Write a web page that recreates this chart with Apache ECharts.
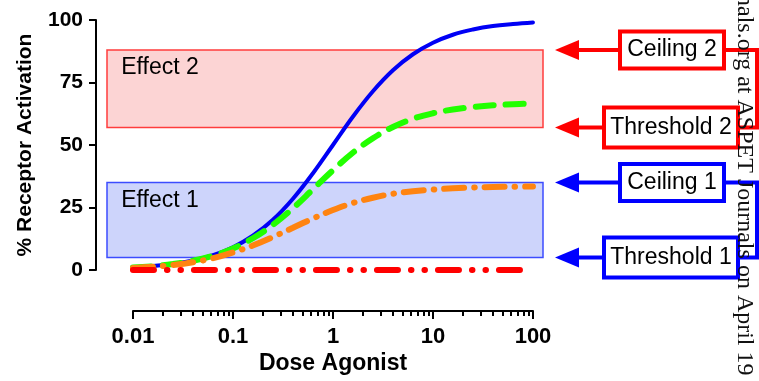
<!DOCTYPE html>
<html><head><meta charset="utf-8">
<script src="https://cdn.jsdelivr.net/npm/echarts@6/dist/echarts.min.js"></script>
<style>html,body{margin:0;padding:0;background:#fff}#c{width:759px;height:381px}</style>
</head><body><div id="c"></div>
<script>
// ---- data ----
const doses = [0.01, 0.0158, 0.0251, 0.0398, 0.0631, 0.1, 0.158, 0.251, 0.398, 0.631, 1, 1.58, 2.51, 3.98, 6.31, 10, 15.8, 25.1, 39.8, 63.1, 100];
const fullAgonist = [1.0, 1.6, 2.5, 3.8, 5.9, 9.1, 13.7, 20.1, 28.5, 38.7, 50.0, 61.3, 71.5, 79.9, 86.3, 90.9, 94.1, 96.2, 97.6, 98.4, 99.0];
const partialAgonistHigh = [1.0, 1.5, 2.4, 3.7, 5.7, 8.6, 12.7, 18.1, 24.7, 32.3, 39.9, 46.9, 52.7, 57.2, 60.5, 62.7, 64.2, 65.2, 65.9, 66.3, 66.6];
const partialAgonistLow = [0.8, 1.3, 2.0, 3.1, 4.7, 7.0, 9.8, 13.2, 16.9, 20.6, 24.0, 26.8, 28.9, 30.5, 31.5, 32.2, 32.7, 33.0, 33.2, 33.3, 33.4];
const antagonist = [0, 0, 0, 0, 0, 0, 0, 0, 0, 0, 0, 0, 0, 0, 0, 0, 0, 0, 0, 0, 0];
const effect2Band = [57, 88];   // [threshold 2, ceiling 2]
const effect1Band = [5, 35];    // [threshold 1, ceiling 1]
const bandDoseRange = [0.0055, 126];
const bandLabels = ['Effect 1', 'Effect 2'];
const yTicks = [0, 25, 50, 75, 100];
const xTickValues = [0.01, 0.1, 1, 10, 100];
const xTickLabels = ['0.01', '0.1', '1', '10', '100'];
const xMinorTicks = [0.02,0.03,0.04,0.05,0.06,0.07,0.08,0.09, 0.2,0.3,0.4,0.5,0.6,0.7,0.8,0.9, 2,3,4,5,6,7,8,9, 20,30,40,50,60,70,80,90];
const boxLabels = ['Ceiling 2', 'Threshold 2', 'Ceiling 1', 'Threshold 1'];
const watermark = 'nals.org at ASPET Journals on April 19';

const FONT = '"Liberation Sans", Arial, Helvetica, sans-serif';
const pairs = (ys) => doses.map((d, i) => [d, ys[i]]);

const chart = echarts.init(document.getElementById('c'), null, {renderer: 'canvas'});

const option = {
  animation: false,
  backgroundColor: '#fff',
  grid: [
    {left: 107, top: 20, width: 436, height: 250, containLabel: false, outerBoundsMode: 'none'},
    {left: 133, top: 200, width: 400, height: 111, containLabel: false, outerBoundsMode: 'none'}
  ],
  xAxis: [
    {gridIndex: 0, type: 'log', min: bandDoseRange[0], max: bandDoseRange[1], show: false},
    {gridIndex: 1, type: 'log', min: xTickValues[0], max: xTickValues[xTickValues.length - 1], position: 'bottom',
      axisLine: {show: true, lineStyle: {color: '#000', width: 2}},
      axisTick: {show: true, inside: false, length: 8, lineStyle: {color: '#000', width: 2}, customValues: xTickValues},
      minorTick: {show: false},
      splitLine: {show: false},
      axisLabel: {show: true, customValues: xTickValues, margin: 15, color: '#000', fontFamily: FONT, fontWeight: 'bold', fontSize: 22,
        formatter: (v) => { let best = 0; xTickValues.forEach((t, i) => { if (Math.abs(Math.log10(t) - Math.log10(v)) < Math.abs(Math.log10(xTickValues[best]) - Math.log10(v))) best = i; }); return xTickLabels[best]; }},
      name: 'Dose Agonist', nameLocation: 'middle', nameGap: 41,
      nameTextStyle: {color: '#000', fontFamily: FONT, fontWeight: 'bold', fontSize: 23}
    },
    {gridIndex: 1, type: 'log', min: xTickValues[0], max: xTickValues[xTickValues.length - 1], position: 'bottom',
      axisLine: {show: false},
      axisTick: {show: true, inside: false, length: 5, lineStyle: {color: '#000', width: 2}, customValues: xMinorTicks},
      axisLabel: {show: false}, splitLine: {show: false}
    }
  ],
  yAxis: [
    {gridIndex: 0, type: 'value', min: yTicks[0], max: yTicks[yTicks.length - 1], interval: 25, offset: 11,
      axisLine: {show: true, lineStyle: {color: '#000', width: 2}},
      axisTick: {show: true, inside: false, length: 7, lineStyle: {color: '#000', width: 2}},
      splitLine: {show: false},
      axisLabel: {margin: 13, color: '#000', fontFamily: FONT, fontWeight: 'bold', fontSize: 21},
      name: '% Receptor Activation', nameLocation: 'middle', nameGap: 60, nameRotate: 90,
      nameTextStyle: {color: '#000', fontFamily: FONT, fontWeight: 'bold', fontSize: 21}
    },
    {gridIndex: 1, type: 'value', show: false}
  ],
  series: [
    {type: 'line', xAxisIndex: 0, yAxisIndex: 0, data: [], z: 1, silent: true,
      markArea: {silent: true, data: [
        [{xAxis: bandDoseRange[0], yAxis: effect2Band[0], name: bandLabels[1],
          itemStyle: {color: '#fcd4d4', borderColor: '#ff3c3c', borderWidth: 1.5}},
         {xAxis: bandDoseRange[1], yAxis: effect2Band[1]}],
        [{xAxis: bandDoseRange[0], yAxis: effect1Band[0], name: bandLabels[0],
          itemStyle: {color: '#cdd4fb', borderColor: '#3c4cff', borderWidth: 1.5}},
         {xAxis: bandDoseRange[1], yAxis: effect1Band[1]}]
      ],
      label: {show: true, position: 'insideTopLeft', distance: 5, offset: [10, 2], color: '#000', fontFamily: FONT, fontSize: 23}}
    },
    {type: 'line', name: 'Full agonist', xAxisIndex: 0, yAxisIndex: 0, data: pairs(fullAgonist), z: 3,
      showSymbol: false, smooth: 0.4, lineStyle: {color: '#0000f5', width: 4, cap: 'round'}},
    {type: 'line', name: 'Partial agonist (high)', xAxisIndex: 0, yAxisIndex: 0, data: pairs(partialAgonistHigh), z: 4,
      showSymbol: false, smooth: 0.4, lineStyle: {color: '#22ff00', width: 6, type: [18, 12], cap: 'round'}},
    {type: 'line', name: 'Partial agonist (low)', xAxisIndex: 0, yAxisIndex: 0, data: pairs(partialAgonistLow), z: 5,
      showSymbol: false, smooth: 0.4, lineStyle: {color: '#ff8410', width: 6, type: [20, 10, 0.5, 10], cap: 'round'}},
    {type: 'line', name: 'Antagonist', xAxisIndex: 0, yAxisIndex: 0, data: pairs(antagonist), z: 6,
      showSymbol: false, lineStyle: {color: '#ff0000', width: 6, type: [21, 13, 0.5, 13, 0.5, 13], cap: 'round'}}
  ]
};
chart.setOption(option);

// annotation boxes with arrows pointing at the band edges
const yPix = (v) => chart.convertToPixel({yAxisIndex: 0}, v);
const specs = [
  {label: boxLabels[0], value: effect2Band[1], color: '#ff0000', left: 618, right: 726, h: 41},
  {label: boxLabels[1], value: effect2Band[0], color: '#ff0000', left: 602, right: 740, h: 44},
  {label: boxLabels[2], value: effect1Band[1], color: '#0000ff', left: 618, right: 726, h: 41},
  {label: boxLabels[3], value: effect1Band[0], color: '#0000ff', left: 602, right: 740, h: 44}
];
const g = [];
specs.forEach((s) => {
  const y = yPix(s.value);
  g.push({type: 'rect', z: 10, shape: {x: s.left + 2, y: y - s.h / 2 + 2, width: s.right - s.left - 4, height: s.h - 4},
    style: {fill: '#fff', stroke: s.color, lineWidth: 4}});
  g.push({type: 'text', z: 11, x: (s.left + s.right) / 2, y: y,
    style: {text: s.label, fill: '#000', font: '23px ' + FONT, align: 'center', verticalAlign: 'middle', textAlign: 'center', textVerticalAlign: 'middle'}});
  g.push({type: 'line', z: 10, shape: {x1: s.left, y1: y, x2: 574, y2: y}, style: {stroke: s.color, lineWidth: 4}});
  g.push({type: 'polygon', z: 10, shape: {points: [[555, y], [579, y - 10], [579, y + 10]]}, style: {fill: s.color}});
});
[[0, 1], [2, 3]].forEach(([a, b]) => {
  const ya = yPix(specs[a].value), yb = yPix(specs[b].value);
  g.push({type: 'polyline', z: 9, shape: {points: [[specs[a].right - 2, ya], [757, ya], [757, yb], [specs[b].right - 2, yb]]},
    style: {stroke: specs[a].color, lineWidth: 4, fill: null}});
});
g.push({type: 'text', z: 12, x: 744, y: -6, rotation: -Math.PI / 2,
  style: {text: watermark, fill: '#111', font: '24px "Liberation Serif", "Times New Roman", serif',
    align: 'left', verticalAlign: 'middle', textAlign: 'left', textVerticalAlign: 'middle'}});
chart.setOption({graphic: g});
</script>
</body></html>
